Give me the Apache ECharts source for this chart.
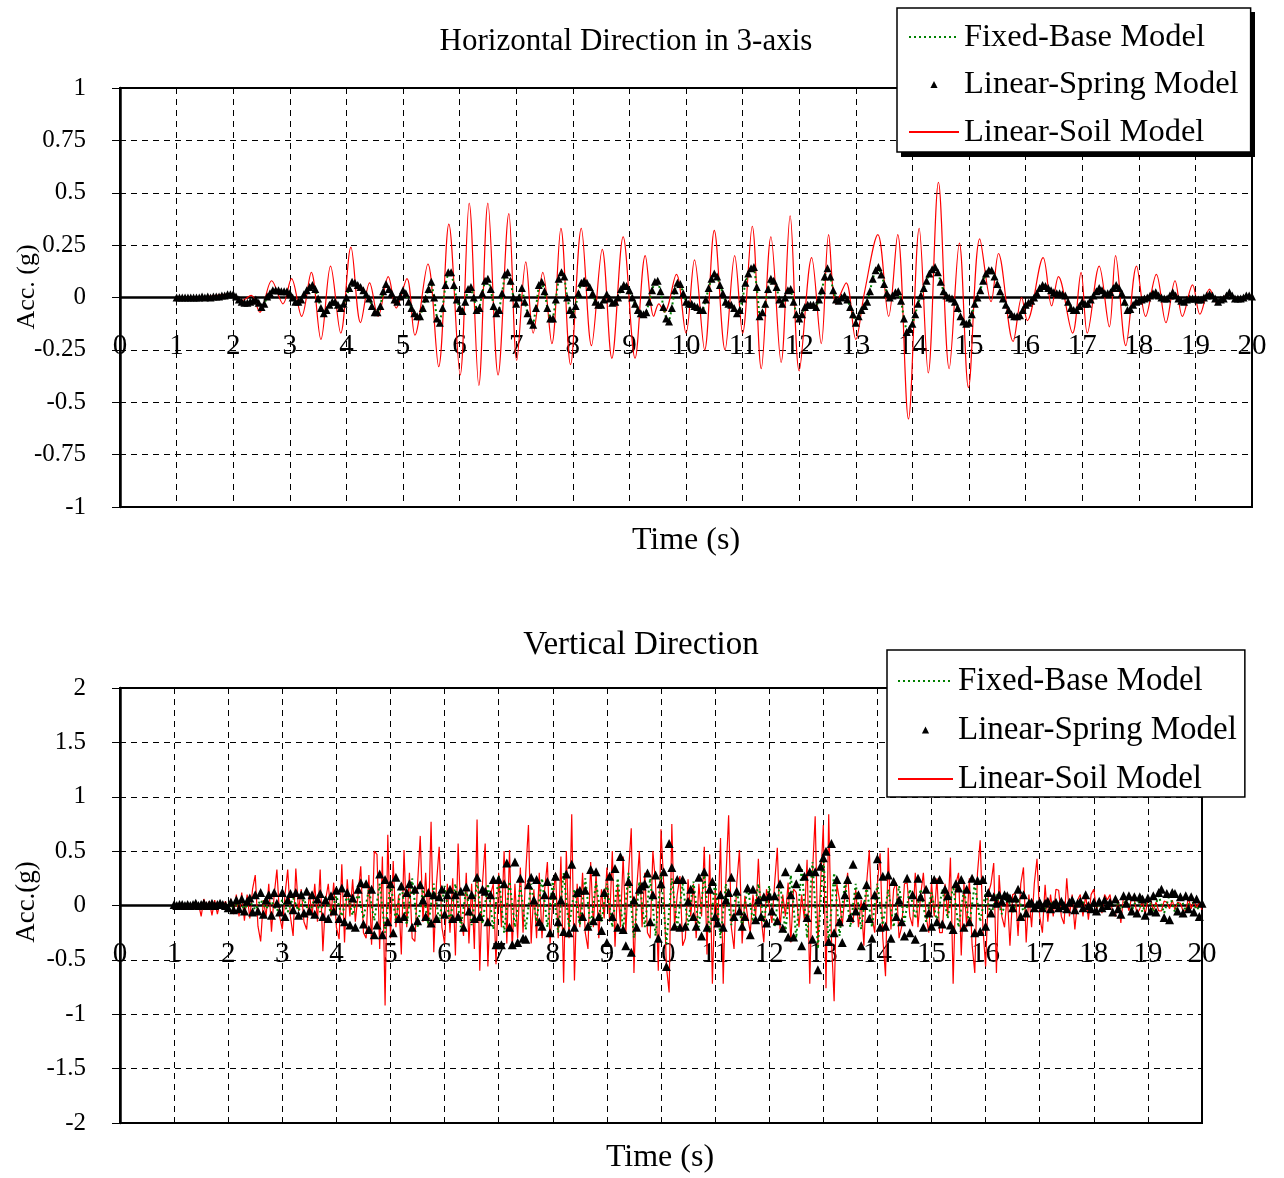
<!DOCTYPE html>
<html><head><meta charset="utf-8">
<script src="https://cdn.jsdelivr.net/npm/echarts@6/dist/echarts.min.js"></script>
<style>html,body{margin:0;padding:0;background:#fff}#c{width:1284px;height:1178px}</style>
</head><body><div id="c"></div>
<script>
// ---------- Horizontal direction (top chart) ----------
const hTitle = 'Horizontal Direction in 3-axis';
const hStart = 1.0, hStep = 0.05;
// Linear-Spring Model (triangles), t = 1.0 ... 20.0 step 0.05
const hSpring = [
 0,0,0,0,0,0,0,0,0,0.005,
 0,0.005,0,0.005,0.005,0.005,0.01,0.01,0.015,0.015,
 0.015,0.005,-0.01,-0.02,-0.025,-0.025,-0.02,-0.015,-0.01,-0.025,
 -0.045,-0.03,0.005,0.02,0.035,0.035,0.035,0.03,0.03,0.03,
 0.02,0.0,-0.02,-0.02,-0.01,0.015,0.035,0.05,0.06,0.04,
 -0.005,-0.05,-0.075,-0.06,-0.035,-0.02,-0.02,-0.035,-0.05,-0.03,
 0,0.045,0.075,0.07,0.06,0.05,0.035,0.015,-0.005,-0.04,
 -0.07,-0.07,-0.04,0.03,0.065,0.04,0.02,-0.01,-0.02,0.005,
 0.035,0.02,-0.02,-0.05,-0.075,-0.09,-0.09,-0.05,-0.005,0.04,
 0.075,0.0,-0.1,-0.12,-0.05,0.06,0.12,0.12,0.06,-0.01,
 -0.05,-0.065,-0.02,0.04,0.05,0.0,-0.06,-0.05,0.02,0.08,
 0.09,0.04,-0.04,-0.075,-0.06,0.02,0.11,0.12,0.08,0.0,
 -0.03,0.0,0.045,-0.02,-0.075,-0.11,-0.13,-0.05,0.06,0.075,
 0.03,-0.05,-0.1,-0.1,-0.01,0.09,0.12,0.1,0.0,-0.06,
 -0.08,-0.04,0.02,0.07,0.08,0.07,0.05,0.02,-0.02,-0.035,
 -0.035,-0.01,0.015,-0.005,-0.025,-0.02,0.0,0.04,0.06,0.055,
 0.035,0.0,-0.03,-0.06,-0.075,-0.08,-0.07,-0.02,0.035,0.075,
 0.08,0.03,-0.045,-0.1,-0.115,-0.05,0.035,0.07,0.065,0.02,
 -0.02,-0.03,-0.03,-0.04,-0.045,-0.06,-0.06,-0.01,0.045,0.09,
 0.115,0.1,0.06,0.02,-0.02,-0.03,-0.035,-0.05,-0.075,-0.06,
 -0.005,0.07,0.115,0.14,0.145,0.05,-0.09,-0.07,-0.03,0.04,
 0.09,0.08,0.05,-0.01,-0.03,0.0,0.035,0.04,-0.02,-0.08,
 -0.1,-0.08,-0.045,-0.035,-0.035,-0.035,-0.045,-0.01,0.035,0.1,
 0.14,0.1,0.035,-0.01,-0.015,0.0,0.01,-0.01,-0.045,-0.08,
 -0.12,-0.09,-0.06,-0.04,-0.02,0.03,0.09,0.13,0.145,0.11,
 0.065,0.02,0.0,0.01,0.025,0.03,-0.015,-0.1,-0.165,-0.15,
 -0.125,-0.08,-0.03,0.01,0.045,0.08,0.115,0.135,0.145,0.12,
 0.075,0.03,0.01,0.0,-0.005,-0.02,-0.05,-0.09,-0.115,-0.125,
 -0.12,-0.08,-0.03,0.0,0.035,0.08,0.115,0.13,0.13,0.1,
 0.065,0.03,-0.005,-0.035,-0.06,-0.08,-0.09,-0.09,-0.085,-0.06,
 -0.035,-0.025,-0.015,0.0,0.02,0.045,0.06,0.055,0.045,0.035,
 0.025,0.02,0.02,0.015,0.01,-0.02,-0.05,-0.06,-0.06,-0.04,
 -0.02,-0.03,-0.03,-0.01,0.01,0.03,0.045,0.035,0.02,0.02,
 0.025,0.045,0.06,0.045,0.02,-0.02,-0.06,-0.055,-0.035,-0.02,
 -0.015,-0.01,-0.005,0.0,0.01,0.02,0.025,0.01,0.0,-0.005,
 -0.005,0.01,0.025,0.01,-0.005,-0.015,-0.02,-0.01,-0.005,-0.005,
 -0.005,-0.01,-0.01,0.0,0.01,0.015,0.01,-0.005,-0.02,-0.01,
 -0.005,0.01,0.025,0.01,-0.005,-0.005,-0.005,0.0,0.01,0.01,
 0.005
];
// Fixed-Base Model: coincides with the Linear-Spring curve in this direction (hidden under the triangles)
const hFixed = hSpring;
// Linear-Soil Model (red line): turning points
const hSoilT = [1.0,1.5,1.9,2.0,2.15,2.32,2.47,2.68,2.88,3.03,3.21,3.38,3.55,3.72,3.9,4.08,4.25,4.41,4.56,4.74,4.88,
 5.07,5.21,5.44,5.63,5.81,6.01,6.17,6.34,6.5,6.68,6.87,7.01,7.17,7.3,7.47,7.63,7.79,7.96,8.15,8.33,8.52,8.69,8.89,
 9.1,9.28,9.43,9.52,9.62,9.83,10.0,10.15,10.33,10.5,10.69,10.86,11.0,11.17,11.33,11.5,11.68,11.84,12.0,12.22,12.39,
 12.52,12.65,12.83,13.0,13.15,13.39,13.58,13.74,13.93,14.12,14.28,14.46,14.65,14.83,14.99,15.19,15.39,15.52,15.78,
 15.93,16.03,16.31,16.46,16.58,16.83,16.98,17.09,17.3,17.48,17.59,17.77,17.96,18.12,18.31,18.48,18.64,18.77,18.95,
 19.08,19.25,19.39,19.59,19.77,19.98,20.0];
const hSoilV = [0,0.003,0.015,0.015,-0.015,0.01,-0.07,0.08,-0.03,0.09,-0.09,0.12,-0.2,0.15,-0.17,0.24,-0.12,0.07,-0.09,0.10,-0.05,
 0.09,-0.18,0.16,-0.33,0.35,-0.37,0.45,-0.42,0.45,-0.37,0.40,-0.30,0.17,-0.17,0.12,-0.22,0.33,-0.32,0.33,-0.23,0.23,-0.29,0.29,
 -0.29,0.20,-0.09,-0.03,-0.07,0.11,-0.17,0.18,-0.25,0.32,-0.25,0.20,-0.17,0.34,-0.34,0.29,-0.31,0.39,-0.35,0.19,-0.22,
 0.30,-0.03,0.07,-0.2,0.02,0.30,-0.09,0.30,-0.58,0.33,-0.36,0.55,-0.34,0.26,-0.43,0.28,-0.02,0.21,-0.21,
 0.0,-0.11,0.19,-0.04,0.10,-0.17,0.12,-0.17,0.15,-0.14,0.20,-0.23,0.15,-0.09,0.11,-0.12,0.08,-0.09,0.06,
 -0.08,0.04,-0.03,0.02,-0.01,0.01,0.01];

// ---------- Vertical direction (bottom chart) ----------
const vTitle = 'Vertical Direction';
const vStart = 1.0, vStep = 0.05;
// Linear-Soil Model (red line), t = 1.0 ... 20.0 step 0.05
const vSoil = [
 0,0,0,0.01,0,0.01,0,0,0.01,0.02,
 -0.1,0.06,-0.03,0.04,-0.09,0.05,-0.08,0.03,-0.02,0.04,
 -0.05,0.06,-0.08,0.1,-0.1,0.12,-0.14,0.1,-0.12,0.15,
 0.28,-0.19,-0.33,0.05,-0.1,0.2,-0.24,0.1,0.33,-0.1,
 -0.22,0.1,0.33,-0.1,-0.28,0.34,-0.05,0.15,-0.15,-0.22,
 0.12,-0.1,0.2,-0.15,0.33,-0.42,0.05,0.2,-0.1,0.21,
 -0.2,-0.31,0.38,-0.34,0.24,-0.1,0.24,-0.15,0.1,0.36,
 -0.25,-0.3,0.28,-0.36,0.5,0.47,-0.4,0.45,-0.92,0.65,
 -0.3,0.41,-0.2,0.1,-0.45,0.51,-0.2,0.3,-0.3,-0.33,
 0.2,0.64,-0.15,0.3,-0.2,0.77,-0.43,0.2,0.54,-0.2,
 -0.35,0.2,-0.25,0.25,-0.46,0.57,-0.1,-0.28,0.3,-0.35,
 0.2,-0.4,0.79,-0.6,0.2,0.57,-0.56,0.1,0.2,-0.54,
 0.3,-0.2,0.5,-0.35,0.51,-0.4,0.2,-0.3,0.35,-0.25,
 0.3,0.74,-0.35,0.15,-0.3,0.3,-0.3,0.15,0.4,-0.35,
 0.05,0.3,-0.3,0.45,-0.71,0.5,-0.3,0.84,-0.69,0.2,
 -0.2,0.3,-0.25,-0.4,0.4,-0.2,0.3,-0.3,0.15,-0.12,
 0.35,-0.15,0.5,-0.38,0.2,-0.2,0.45,-0.25,0.3,0.71,
 -0.62,0.15,0.5,-0.2,0.3,-0.25,-0.3,0.5,0.2,-0.6,
 0.7,0.2,-0.56,-0.8,0.75,-0.2,0.1,0.27,-0.37,-0.3,
 0.24,-0.1,0.2,-0.3,0.2,-0.1,0.54,-0.45,0.47,-0.72,
 0.15,-0.2,0.62,-0.72,0.25,0.83,-0.2,-0.4,0.2,0.51,
 -0.35,0.09,-0.1,-0.25,0.1,-0.1,0.43,-0.1,-0.34,0.15,
 0.0,-0.16,0.2,0.53,-0.22,0.1,-0.1,0.21,-0.34,0.15,
 0.12,-0.2,0.1,-0.13,0.42,-0.72,0.3,0.82,-0.37,0.2,
 0.74,-0.76,0.84,-0.3,-0.88,0.2,0.05,-0.19,0.1,0.3,
 -0.1,-0.16,0.15,-0.2,0.05,-0.37,0.2,0.51,-0.1,-0.25,
 0.2,0.48,-0.3,-0.65,0.53,-0.22,0.15,0.21,-0.3,-0.19,
 0.2,0.21,-0.1,-0.19,0.3,-0.2,0.1,0.3,-0.1,-0.25,
 0.21,-0.1,0.25,-0.25,-0.25,0.2,-0.1,0.44,-0.72,0.2,
 0.3,-0.46,0.2,-0.2,0.25,-0.36,-0.62,0.3,0.6,-0.2,
 -0.56,0.11,0.2,0.39,-0.62,0.28,-0.1,-0.2,0.1,-0.37,
 0.1,0.11,-0.28,0.2,0.35,-0.34,0.1,-0.2,0.2,0.43,
 -0.1,-0.25,0.19,-0.15,0.1,-0.1,0.15,0.14,-0.1,-0.17,
 0.25,-0.1,0.1,-0.22,0.05,0.1,-0.1,0.1,-0.13,0.1,
 0.15,-0.05,0.05,-0.07,0.1,0.05,0.1,-0.08,-0.1,0.05,
 -0.16,0.09,0.05,-0.05,0.08,0.05,-0.08,-0.03,0.04,-0.08,
 0.05,0.06,-0.05,0.03,-0.05,-0.05,0.04,0.03,-0.03,0.05,
 -0.04,0.03,0.02,-0.05,-0.05,0.07,-0.03,0.05,-0.02,0.03,
 -0.04
];
// Linear-Spring Model (triangles), t = 1.0 ... 20.0 step 0.05
const vSpring = [
 0.01,0.0,0.01,0.01,0.0,0.01,0.0,0.01,0.02,0.0,
 0.01,0.02,0.0,0.01,0.02,0.0,0.01,0.02,0.01,0.0,
 -0.02,0.03,-0.04,0.05,-0.03,0.06,-0.05,0.04,0.07,-0.06,
 0.1,-0.05,0.12,-0.08,0.05,0.1,-0.09,0.12,0.02,-0.06,
 0.12,-0.1,0.05,0.11,-0.04,0.12,-0.09,0.1,-0.07,0.13,
 -0.05,0.1,-0.08,0.06,0.11,-0.1,0.05,-0.12,0.09,-0.05,
 0.14,-0.12,0.16,-0.15,0.12,-0.18,0.07,-0.2,0.15,0.21,
 -0.17,0.2,-0.22,0.15,-0.27,-0.18,0.29,-0.27,0.24,-0.15,
 0.2,-0.25,0.26,-0.12,0.18,-0.1,0.12,0.2,-0.2,0.15,
 -0.14,0.19,0.05,-0.1,0.12,-0.16,0.1,-0.12,0.08,0.15,
 -0.08,0.1,0.15,-0.12,0.1,-0.1,0.13,-0.2,0.17,-0.05,
 0.1,-0.12,0.26,-0.1,0.15,0.13,-0.15,0.1,0.24,-0.36,
 0.24,-0.36,0.2,0.39,-0.2,-0.36,0.4,-0.34,0.25,-0.3,
 -0.31,0.19,0.26,0.05,0.24,-0.15,-0.19,0.1,0.22,-0.25,
 0.1,0.27,-0.15,0.05,-0.24,0.29,-0.25,0.38,-0.2,0.12,
 0.14,-0.1,0.14,-0.19,0.33,-0.14,0.31,-0.1,-0.23,0.12,
 -0.34,0.27,-0.1,0.34,-0.2,0.45,-0.22,-0.37,0.22,-0.43,
 0.05,-0.2,0.15,0.18,0.2,0.3,-0.15,0.1,0.28,-0.3,
 0.2,0.31,-0.56,0.57,0.35,-0.19,0.24,-0.2,0.24,-0.19,
 0.04,0.15,-0.1,-0.19,0.26,-0.28,0.31,-0.2,0.15,0.22,
 -0.1,-0.16,0.1,-0.2,0.05,0.12,0.26,-0.1,0.13,-0.05,
 -0.19,-0.1,0.16,-0.27,0.15,-0.13,0.05,-0.1,0.08,-0.16,
 0.09,-0.05,0.09,-0.14,0.2,-0.21,0.31,-0.29,0.1,-0.29,
 0.2,0.35,-0.37,0.27,-0.11,0.31,-0.31,0.31,-0.59,0.36,
 0.44,0.5,-0.33,0.57,-0.25,0.24,-0.15,-0.34,0.1,0.24,
 -0.11,0.38,-0.05,0.1,-0.37,0.0,0.19,-0.12,-0.3,0.1,
 0.43,-0.2,0.27,-0.19,0.28,-0.3,0.22,-0.1,0.05,-0.15,
 -0.28,0.25,-0.25,0.1,-0.31,0.25,0.08,-0.2,0.15,-0.07,
 -0.19,0.24,-0.15,0.24,-0.17,0.15,0.09,-0.18,-0.22,0.2,
 0.16,0.24,-0.2,0.15,-0.15,0.25,-0.25,0.23,-0.24,0.24,
 -0.19,0.12,-0.07,0.08,0.02,0.1,0.04,0.1,0.09,0.07,
 -0.02,0.07,0.15,-0.1,0.1,-0.07,0.02,0.03,-0.02,0.01,
 0.03,-0.02,0.02,0.04,-0.03,0.01,0.03,-0.02,0.04,0.0,
 -0.03,0.03,0.05,-0.04,0.02,0.04,-0.02,0.1,0.0,-0.03,
 0.03,-0.05,0.04,-0.02,0.05,0.0,0.03,-0.06,0.06,-0.03,
 -0.08,0.09,0.02,0.09,-0.05,0.08,-0.07,0.08,0.06,-0.09,
 0.07,-0.05,0.09,-0.06,0.12,0.15,-0.11,0.11,-0.13,0.12,
 0.11,-0.05,0.08,-0.07,0.09,-0.03,0.08,-0.06,0.06,-0.1,
 0.02
];
const vFixedStart = 1.0, vFixedStep = 0.1;
// Fixed-Base Model (green dotted), t = 1.0 ... 20.0 step 0.1
const vFixed = [
 0,0,0,0.01,0,0.01,0,0,0.01,0,
 0.02,-0.02,0.03,-0.03,0.04,-0.04,0.05,-0.03,0.04,-0.05,
 0.05,-0.06,0.07,-0.05,0.06,-0.08,0.07,-0.06,0.08,-0.07,
 0.09,-0.1,0.1,-0.09,0.12,-0.12,0.15,-0.14,0.2,-0.25,
 0.22,-0.15,0.2,-0.18,0.25,-0.2,0.15,-0.18,0.2,-0.15,
 0.18,-0.16,0.2,-0.2,0.15,-0.18,0.22,-0.17,0.2,-0.22,
 0.28,-0.25,0.22,-0.2,0.18,-0.22,0.2,-0.15,0.25,-0.2,
 0.22,-0.25,0.3,-0.2,0.15,-0.18,0.25,-0.2,0.22,-0.15,
 0.2,-0.2,0.25,-0.22,0.3,-0.3,0.22,-0.2,0.25,-0.28,
 0.3,-0.35,0.25,-0.2,0.2,-0.18,0.22,-0.2,0.28,-0.25,
 0.22,-0.3,0.2,-0.18,0.15,-0.2,0.18,-0.15,0.2,-0.15,
 0.18,-0.2,0.22,-0.25,0.28,-0.3,0.35,-0.3,0.4,-0.4,
 0.45,-0.35,0.3,-0.28,0.22,-0.2,0.2,-0.22,0.18,-0.2,
 0.2,-0.18,0.15,-0.2,0.18,-0.15,0.15,-0.12,0.15,-0.15,
 0.12,-0.15,0.15,-0.12,0.18,-0.2,0.15,-0.18,0.2,-0.15,
 0.12,-0.1,0.1,-0.08,0.08,-0.06,0.06,-0.05,0.05,-0.04,
 0.04,-0.03,0.03,-0.03,0.02,-0.02,0.03,-0.02,0.03,-0.02,
 0.03,-0.02,0.04,-0.03,0.05,-0.04,0.06,-0.05,0.07,-0.06,
 0.08,-0.06,0.09,-0.07,0.1,-0.06,0.08,-0.05,0.06,-0.04,
 0.02
];

const seriesNames = ['Fixed-Base Model', 'Linear-Spring Model', 'Linear-Soil Model'];
const xLabelName = 'Time (s)';
const hYName = 'Acc. (g)', vYName = 'Acc.(g)';

// ---------- build ----------
const FONT = '"Liberation Serif", "Times New Roman", serif';
const stepped = (arr, t0, dt) => arr.map((v, i) => [+(t0 + i * dt).toFixed(3), v]);
const paired = (ts, vs) => ts.map((t, i) => [t, vs[i]]);

const G1 = { left: 120, top: 88, width: 1132, height: 419 };
const G2 = { left: 120, top: 688, width: 1082, height: 435 };

function xAxisOpt(gridIndex, g) {
  return {
    type: 'value', gridIndex, min: 0, max: 20, interval: 1,
    offset: -g.height / 2,
    axisLine: { onZero: false, lineStyle: { color: '#000', width: 2.5 } },
    axisTick: { show: true, length: 8, lineStyle: { color: '#000', width: 1 } },
    axisLabel: { color: '#000', fontFamily: FONT, fontSize: 29, margin: 34, showMinLabel: true, showMaxLabel: true },
    splitLine: { show: true, lineStyle: { color: '#000', width: 1, type: [6, 5] } }
  };
}
function yAxisOpt(gridIndex, min, max, interval) {
  return {
    type: 'value', gridIndex, min, max, interval,
    axisLine: { show: true, onZero: false, lineStyle: { color: '#000', width: 2.5 } },
    axisTick: { show: true, length: 8, lineStyle: { color: '#000', width: 1 } },
    axisLabel: { color: '#000', fontFamily: FONT, fontSize: 25, margin: 34 },
    splitLine: { show: true, lineStyle: { color: '#000', width: 1, type: [6, 5] } }
  };
}
function legendOpt(left, top, pad, itemWidth, gap, fontSize) {
  return {
    orient: 'vertical', left, top, padding: pad, z: 8,
    itemWidth, itemHeight: 9, itemGap: gap,
    backgroundColor: '#fff', borderColor: '#000', borderWidth: 1.5, borderRadius: 0,
    textStyle: { color: '#000', fontFamily: FONT, fontSize, lineHeight: 36 },
    selectedMode: false,
    data: [
      { name: seriesNames[0], itemStyle: { color: 'rgba(0,0,0,0)', borderWidth: 0 } },
      { name: seriesNames[1] },
      { name: seriesNames[2], itemStyle: { color: 'rgba(0,0,0,0)', borderWidth: 0 } }
    ]
  };
}
function seriesSet(xi, fixedData, springData, soilData, triSize, soilSmooth) {
  return [
    { name: seriesNames[2], type: 'line', xAxisIndex: xi, yAxisIndex: xi, data: soilData, smooth: soilSmooth,
      symbol: 'none', lineStyle: { color: '#ff0000', width: 1.2 }, itemStyle: { color: '#ff0000' }, z: 2 },
    { name: seriesNames[0], type: 'line', xAxisIndex: xi, yAxisIndex: xi, data: fixedData,
      symbol: 'none', lineStyle: { color: '#008000', width: 2, type: [2, 3] }, itemStyle: { color: '#008000' }, z: 3 },
    { name: seriesNames[1], type: 'line', xAxisIndex: xi, yAxisIndex: xi, data: springData,
      symbol: 'triangle', symbolSize: triSize, showSymbol: true, showAllSymbol: true,
      lineStyle: { width: 0, color: '#000' }, itemStyle: { color: '#000' }, z: 4 }
  ];
}
const txt = (x, y, text, size, rot) => ({
  type: 'text', x, y, rotation: rot || 0, z: 10,
  style: { text, font: size + 'px ' + FONT, fill: '#000', textAlign: 'center', textVerticalAlign: 'middle' }
});

const chart = echarts.init(document.getElementById('c'), null, { renderer: 'canvas' });
chart.setOption({
  animation: false,
  backgroundColor: '#fff',
  grid: [
    Object.assign({ show: true, borderColor: '#000', borderWidth: 2, containLabel: false, outerBoundsMode: 'none' }, G1),
    Object.assign({ show: true, borderColor: '#000', borderWidth: 2, containLabel: false, outerBoundsMode: 'none' }, G2)
  ],
  xAxis: [xAxisOpt(0, G1), xAxisOpt(1, G2)],
  yAxis: [yAxisOpt(0, -1, 1, 0.25), yAxisOpt(1, -2, 2, 0.5)],
  legend: [
    legendOpt(897, 8, [11, 12, 2, 11], 50, 11.5, 32.5),
    legendOpt(887, 650, [13, 8, 0, 10], 55, 13, 33)
  ],
  graphic: [
    { type: 'rect', z: 7, shape: { x: 901, y: 12, width: 354, height: 145 }, style: { fill: '#000' } },
    txt(626, 42, hTitle, 31),
    txt(686, 541, xLabelName, 32),
    txt(27, 287, hYName, 26, Math.PI / 2),
    txt(641, 645, vTitle, 33),
    txt(660, 1158, xLabelName, 32),
    txt(27, 902, vYName, 27, Math.PI / 2)
  ],
  series: [
    ...seriesSet(0, stepped(hFixed, hStart, hStep), stepped(hSpring, hStart, hStep), paired(hSoilT, hSoilV), 8, 0.35),
    ...seriesSet(1, stepped(vFixed, vFixedStart, vFixedStep), stepped(vSpring, vStart, vStep), stepped(vSoil, vStart, vStep), 9, false)
  ]
});
</script></body></html>
